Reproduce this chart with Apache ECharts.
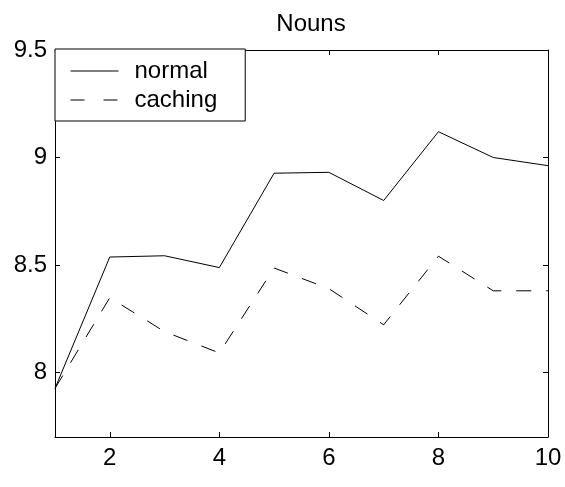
<!DOCTYPE html>
<html><head><meta charset="utf-8">
<script src="https://cdn.jsdelivr.net/npm/echarts@6/dist/echarts.min.js"></script>
<style>html,body{margin:0;padding:0;background:#fff}#c{width:565px;height:487px}</style>
</head><body><div id="c"></div>
<script>
const xValues = [1, 2, 3, 4, 5, 6, 7, 8, 9, 10];
const normal = [7.926, 8.537, 8.543, 8.488, 8.927, 8.931, 8.80, 9.12, 9.00, 8.962];
const caching = [7.926, 8.348, 8.19, 8.091, 8.486, 8.39, 8.222, 8.541, 8.38, 8.38];
const xTicks = [2, 4, 6, 8, 10];
const yTicks = [8, 8.5, 9, 9.5];

const font = 'Liberation Sans, Arial, Helvetica, sans-serif';
const chart = echarts.init(document.getElementById('c'), null, {renderer: 'canvas'});
const axLine = {show: true, onZero: false, lineStyle: {color: '#000', width: 1}};
const tickIn = (vals) => ({show: true, inside: true, length: 5, lineStyle: {color: '#000'}, customValues: vals});
chart.setOption({
  animation: false,
  title: {text: 'Nouns', left: 306, textAlign: 'center', top: 7, textStyle: {fontFamily: font, fontWeight: 'normal', fontSize: 24, color: '#000'}},
  grid: {left: 55, right: 17, top: 50, bottom: 50, containLabel: false},
  legend: {
    orient: 'vertical', left: 55, top: 49, itemWidth: 48, itemHeight: 14, itemGap: 5,
    padding: [10, 28, 9, 15],
    borderColor: '#000', borderWidth: 1, backgroundColor: '#fff', borderRadius: 0,
    itemStyle: {opacity: 0},
    lineStyle: {width: 1, color: '#000'},
    textStyle: {fontFamily: font, fontSize: 24, color: '#000', padding: [0, 0, 0, 11]},
    data: [
      {name: 'normal'},
      {name: 'caching', lineStyle: {width: 1, color: '#000', type: [14, 19]}}
    ]
  },
  xAxis: [
    {type: 'value', min: 1, max: 10, position: 'bottom', axisLine: axLine, axisTick: tickIn(xTicks), splitLine: {show: false},
     axisLabel: {customValues: xTicks, color: '#000', fontFamily: font, fontSize: 24, margin: 9}},
    {type: 'value', min: 1, max: 10, position: 'top', axisLine: axLine, axisTick: tickIn(xTicks), splitLine: {show: false}, axisLabel: {show: false}}
  ],
  yAxis: [
    {type: 'value', min: 7.7, max: 9.5, position: 'left', axisLine: axLine, axisTick: tickIn(yTicks), splitLine: {show: false},
     axisLabel: {customValues: yTicks, color: '#000', fontFamily: font, fontSize: 24, margin: 8, formatter: v => String(v)}},
    {type: 'value', min: 7.7, max: 9.5, position: 'right', axisLine: axLine, axisTick: tickIn(yTicks), splitLine: {show: false}, axisLabel: {show: false}}
  ],
  series: [
    {name: 'normal', type: 'line', symbol: 'none', data: xValues.map((x, i) => [x, normal[i]]), lineStyle: {color: '#000', width: 1}, itemStyle: {color: '#000'}},
    {name: 'caching', type: 'line', symbol: 'none', data: xValues.map((x, i) => [x, caching[i]]), lineStyle: {color: '#000', width: 1, type: [15, 15]}, itemStyle: {color: '#000'}}
  ]
});
</script></body></html>
